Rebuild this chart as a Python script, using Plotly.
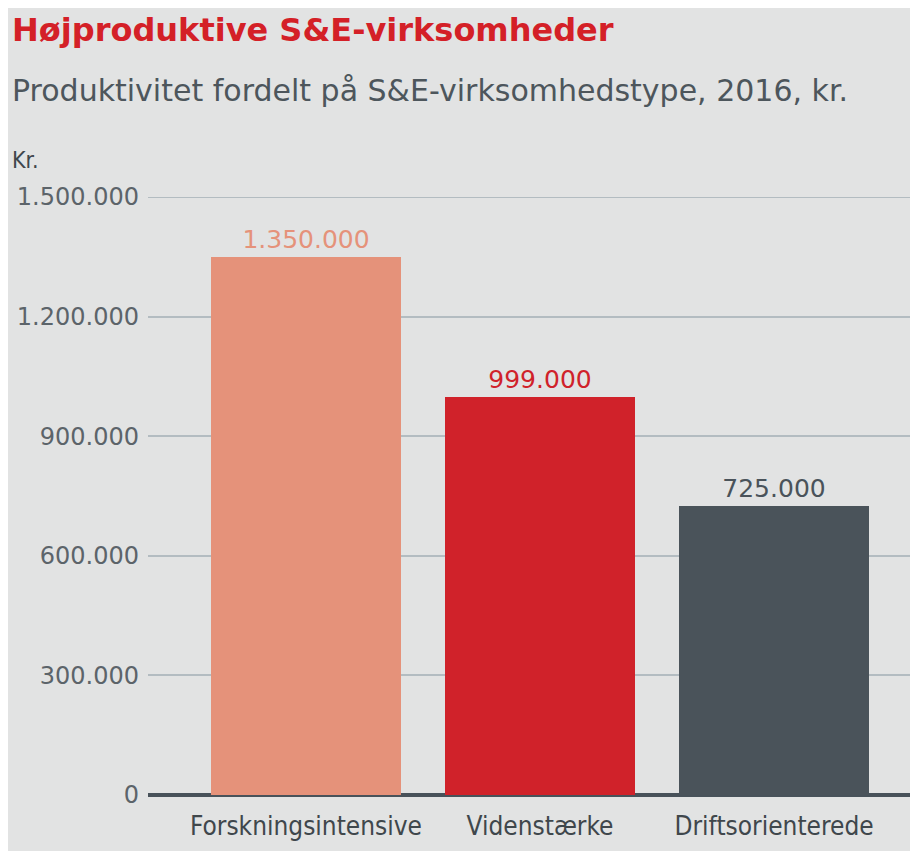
import plotly.graph_objects as go

categories = ["Forskningsintensive", "Videnstærke", "Driftsorienterede"]
values = [1350000, 999000, 725000]
value_labels = ["1.350.000", "999.000", "725.000"]
bar_colors = ["#e5927a", "#d0222a", "#4a535a"]
tick_vals = [0, 300000, 600000, 900000, 1200000, 1500000]
tick_text = ["0", "300.000", "600.000", "900.000", "1.200.000", "1.500.000"]

FONT = "DejaVu Sans, Liberation Sans, sans-serif"
FONT_C = "DejaVu Sans Condensed, DejaVu Sans, sans-serif"
BG = "#e2e3e3"
GRID = "#b3bcc1"

# page is offset by 8px body margin; plot area in page coords: x 148-918, y 197-795
W, H = 910, 843
fig = go.Figure()
fig.add_trace(go.Bar(
    x=categories, y=values,
    marker=dict(color=bar_colors, line=dict(width=0)),
    width=0.812,
    text=value_labels, textposition="outside",
    textfont=dict(family=FONT, size=25, color=bar_colors),
    cliponaxis=False,
    hoverinfo="skip",
))

PH = 598.0
PW = 770.0
fig.update_layout(
    width=W, height=H,
    paper_bgcolor=BG, plot_bgcolor=BG,
    margin=dict(l=140, r=0, t=189, b=56, pad=0),
    showlegend=False,
    bargap=0,
    xaxis=dict(
        type="category", range=[-0.675, 2.615],
        showgrid=False, showline=False, zeroline=False,
        ticks="", tickfont=dict(family=FONT_C, size=26, color="#3f474c"),
        ticklabelstandoff=13,
    ),
    yaxis=dict(
        range=[0, 1500000],
        tickvals=tick_vals, ticktext=tick_text,
        showgrid=True, gridcolor=GRID, gridwidth=2,
        zeroline=True, zerolinecolor="#48525a", zerolinewidth=4,
        showline=False, ticks="",
        tickfont=dict(family=FONT, size=24, color="#5c646a"),
        ticklabelstandoff=8,
    ),
    shapes=[
        dict(type="line", xref="paper", yref="y", x0=0, x1=1,
             y0=tick_vals[-1], y1=tick_vals[-1], layer="below",
             line=dict(color=GRID, width=2)),
    ],
    annotations=[
        dict(text="<b>Højproduktive S&E-virksomheder</b>", xref="paper", yref="paper",
             x=(10 - 148) / PW, y=1 + (197 - 30) / PH, xanchor="left", yanchor="middle",
             showarrow=False, font=dict(family=FONT, size=32, color="#d42027")),
        dict(text="Produktivitet fordelt på S&E-virksomhedstype, 2016, kr.", xref="paper", yref="paper",
             x=(10 - 148) / PW, y=1 + (197 - 91) / PH, xanchor="left", yanchor="middle",
             showarrow=False, font=dict(family=FONT, size=30, color="#4d565c")),
        dict(text="Kr.", xref="paper", yref="paper",
             x=(10 - 148) / PW, y=1 + (197 - 160) / PH, xanchor="left", yanchor="middle",
             showarrow=False, font=dict(family=FONT_C, size=23, color="#3f474c")),
    ],
)

fig.write_html("out.html")
